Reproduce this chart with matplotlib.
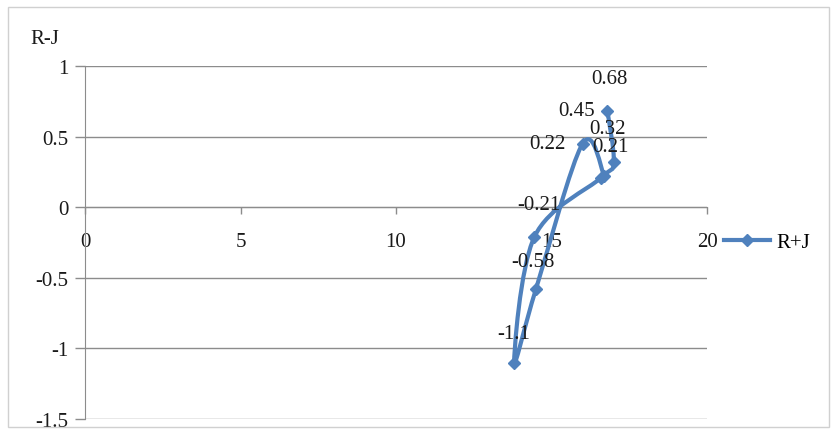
import matplotlib
matplotlib.use('Agg')
import matplotlib.pyplot as plt
import numpy as np
from matplotlib.path import Path
from matplotlib.patches import PathPatch, Rectangle
from matplotlib.lines import Line2D

plt.rcParams['font.family'] = ['Liberation Serif', 'DejaVu Serif']

BLUE = '#4F81BD'
GRID = '#8C8C8C'
TEXT = '#1A1A1A'

# ---------------------------------------------------------------- data
# series order as plotted (smoothed line connects them in this order)
x_vals = [16.8, 17.0, 16.6, 14.45, 13.8, 14.5, 16.0, 16.7]
y_vals = [0.68, 0.32, 0.21, -0.21, -1.1, -0.58, 0.45, 0.22]
point_labels = ['0.68', '0.32', '0.21', '-0.21', '-1.1', '-0.58', '0.45', '0.22']
# label offsets from marker, pixels (labels sit above their markers)
label_offsets = [(2, 33), (-6, 34), (9, 31), (4, 32), (0, 29), (-3, 28),
                 (-6, 33), (-57, 33)]

x_ticks = [0, 5, 10, 15, 20]
y_ticks = [-1.5, -1, -0.5, 0, 0.5, 1]
y_tick_labels = ['-1.5', '-1', '-0.5', '0', '0.5', '1']

fig = plt.figure(figsize=(8.37, 4.35), dpi=100)
fig.patch.set_facecolor('white')
ax = fig.add_axes([85 / 837, 1 - 420 / 435, (707 - 85) / 837, (420 - 67) / 435])
ax.set_xlim(0, 20)
ax.set_ylim(-1.5, 1)

# gridlines
for yv in y_ticks:
    ax.axhline(yv, color=GRID, lw=1, zorder=1)

# spines: y axis at x=0, x axis crossing at y=0
for s in ['top', 'right']:
    ax.spines[s].set_visible(False)
ax.spines['left'].set_color(GRID)
ax.spines['left'].set_position(('data', 0))
ax.spines['bottom'].set_position(('data', 0))
ax.spines['bottom'].set_color(GRID)

ax.set_xticks(x_ticks)
ax.set_xticklabels([str(v) for v in x_ticks])
ax.set_yticks(y_ticks)
ax.set_yticklabels(y_tick_labels)
ax.tick_params(axis='x', direction='out', length=5, width=1, color=GRID,
               pad=13, labelsize=15, labelcolor=TEXT)
ax.tick_params(axis='y', direction='out', length=7, width=1, color=GRID,
               pad=5, labelsize=15, labelcolor=TEXT)

# smoothed line (Catmull-Rom style Bezier through the data points)
pts = np.column_stack([x_vals, y_vals])
n = len(pts)
verts = [tuple(pts[0])]
codes = [Path.MOVETO]
for i in range(n - 1):
    p_prev = pts[i - 1] if i > 0 else pts[i]
    p_next2 = pts[i + 2] if i + 2 < n else pts[i + 1]
    c1 = pts[i] + (pts[i + 1] - p_prev) / 6.0
    c2 = pts[i + 1] - (p_next2 - pts[i]) / 6.0
    verts += [tuple(c1), tuple(c2), tuple(pts[i + 1])]
    codes += [Path.CURVE4] * 3
ax.add_patch(PathPatch(Path(verts, codes), facecolor='none', edgecolor=BLUE,
                       lw=3, capstyle='round', joinstyle='round', zorder=3))
ax.plot(x_vals, y_vals, ls='none', marker='D', ms=6, color=BLUE,
        markeredgecolor=BLUE, zorder=4)

for xv, yv, lab, off in zip(x_vals, y_vals, point_labels, label_offsets):
    ax.annotate(lab, (xv, yv), xytext=off, textcoords='offset pixels',
                ha='center', va='center', fontsize=15, color=TEXT, zorder=5)

# axis title
fig.text(45 / 837, 1 - 40 / 435, 'R-J', ha='center', va='center',
         fontsize=15, color=TEXT)

# legend
handle = Line2D([], [], color=BLUE, lw=3, marker='D', ms=6)
fig.legend([handle], ['R+J'], loc='center left',
           bbox_to_anchor=(716 / 837, 1 - 243 / 435), frameon=False,
           fontsize=15, handlelength=2.2, handletextpad=0.3,
           borderaxespad=0)

# chart border
fig.add_artist(Rectangle((8 / 837, 7 / 435), 821 / 837, 420 / 435,
                         transform=fig.transFigure, fill=False,
                         edgecolor='#D0D0D0', lw=1))

fig.savefig('out.png', dpi=100, facecolor='white')
